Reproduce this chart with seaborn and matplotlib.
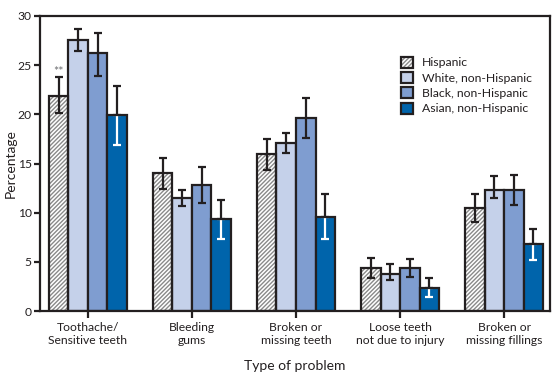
import numpy as np
import pandas as pd
import seaborn as sns
import matplotlib.pyplot as plt
import matplotlib.patches as mpatches
from matplotlib.legend_handler import HandlerTuple

problems = ["Toothache/\nSensitive teeth", "Bleeding\ngums", "Broken or\nmissing teeth",
            "Loose teeth\nnot due to injury", "Broken or\nmissing fillings"]
groups = ["Hispanic", "White, non-Hispanic", "Black, non-Hispanic", "Asian, non-Hispanic"]

# percentages per group, in order of problems
hispanic = [21.9, 14.0, 16.0, 4.4, 10.5]
white = [27.6, 11.5, 17.1, 3.8, 12.3]
black = [26.2, 12.8, 19.6, 4.4, 12.3]
asian = [19.9, 9.4, 9.6, 2.4, 6.8]

# 95% confidence limits
hispanic_lo = [20.1, 12.4, 14.3, 3.4, 9.1]
hispanic_hi = [23.8, 15.6, 17.5, 5.4, 11.9]
white_lo = [26.4, 10.7, 16.1, 3.2, 11.5]
white_hi = [28.7, 12.3, 18.1, 4.8, 13.7]
black_lo = [23.9, 11.0, 17.6, 3.45, 10.8]
black_hi = [28.3, 14.6, 21.7, 5.3, 13.8]
asian_lo = [16.9, 7.3, 7.3, 1.4, 5.2]
asian_hi = [22.9, 11.3, 11.9, 3.35, 8.35]

vals = [hispanic, white, black, asian]
los = [hispanic_lo, white_lo, black_lo, asian_lo]
his = [hispanic_hi, white_hi, black_hi, asian_hi]

colors = ["#ffffff", "#c5d1ea", "#7f9dd0", "#0064ab"]
ink = "#231f20"
hatch_gray = "#8a8a8a"
HATCH = "////////"

df = pd.DataFrame({
    "problem": np.repeat([problems], 4, axis=0).ravel(),
    "group": np.repeat(groups, len(problems)),
    "pct": np.concatenate(vals),
})

sns.set_style("white")
plt.rcParams["font.family"] = ["Lato", "DejaVu Sans"]
plt.rcParams["hatch.linewidth"] = 1.0

fig = plt.figure(figsize=(5.57, 3.79), dpi=100)
ax = fig.add_axes([0.0718, 0.179, 0.9155, 0.779])

sns.barplot(data=df, x="problem", y="pct", hue="group", hue_order=groups,
            palette=colors, saturation=1, width=0.75, errorbar=None,
            edgecolor=ink, linewidth=1.6, legend=False, ax=ax, zorder=2)
bar_conts = list(ax.containers)

# hatched Hispanic bars: gray hatch with black outline
for bar in bar_conts[0]:
    bar.set_hatch(HATCH)
    bar.set_edgecolor(hatch_gray)
    bar.set_linewidth(0)
    ax.add_patch(mpatches.Rectangle(bar.get_xy(), bar.get_width(), bar.get_height(),
                                    fill=False, edgecolor=ink, linewidth=1.6, zorder=3))

for i, cont in enumerate(bar_conts):
    x = np.array([b.get_x() + b.get_width() / 2 for b in cont])
    v = np.array(vals[i])
    lo = np.array(los[i])
    hi = np.array(his[i])
    if i == 3:
        ax.errorbar(x, v, yerr=[v - lo, np.zeros_like(v)], fmt="none", ecolor="white",
                    elinewidth=1.6, capsize=2.6, capthick=1.6, zorder=4)
        ax.errorbar(x, v, yerr=[np.zeros_like(v), hi - v], fmt="none", ecolor=ink,
                    elinewidth=1.6, capsize=2.6, capthick=1.6, zorder=4)
    else:
        ax.errorbar(x, v, yerr=[v - lo, hi - v], fmt="none", ecolor=ink,
                    elinewidth=1.6, capsize=2.6, capthick=1.6, zorder=4)

# significance marker above Hispanic toothache bar
b0 = bar_conts[0][0]
ax.text(b0.get_x() + b0.get_width() / 2, 24.3, "**", ha="center", va="center",
        fontsize=9, color="#6d6e71")

ax.set_ylim(0, 30)
ax.set_xlim(-0.46, 4.44)
ax.set_yticks(range(0, 31, 5))
ax.set_xlabel("Type of problem", fontsize=10, color=ink, labelpad=10)
ax.set_ylabel("Percentage", fontsize=10, color=ink)
ax.yaxis.set_label_coords(-0.045, 0.5)
ax.tick_params(axis="both", colors=ink, labelsize=8.7, width=1.6, length=4,
               direction="out", bottom=True, left=True)
ax.tick_params(axis="x", length=5, pad=3)
ax.tick_params(axis="y", pad=2)
for s in ax.spines.values():
    s.set_visible(True)
    s.set_color(ink)
    s.set_linewidth(1.6)

# legend
handles = []
for i, g in enumerate(groups):
    if i == 0:
        h = (mpatches.Patch(facecolor="white", edgecolor=hatch_gray, hatch=HATCH, linewidth=0),
             mpatches.Patch(fill=False, edgecolor=ink, linewidth=1.6))
    else:
        h = mpatches.Patch(facecolor=colors[i], edgecolor=ink, linewidth=1.6)
    handles.append(h)
leg = ax.legend(handles, groups, handler_map={tuple: HandlerTuple(ndivide=1)},
                loc="upper left", bbox_to_anchor=(0.708, 0.862), frameon=False,
                fontsize=8.8, handlelength=1.0, handleheight=1.0, handletextpad=0.7,
                labelspacing=0.3, borderpad=0, borderaxespad=0)
for t in leg.get_texts():
    t.set_color(ink)

fig.savefig("out.png", dpi=100)
